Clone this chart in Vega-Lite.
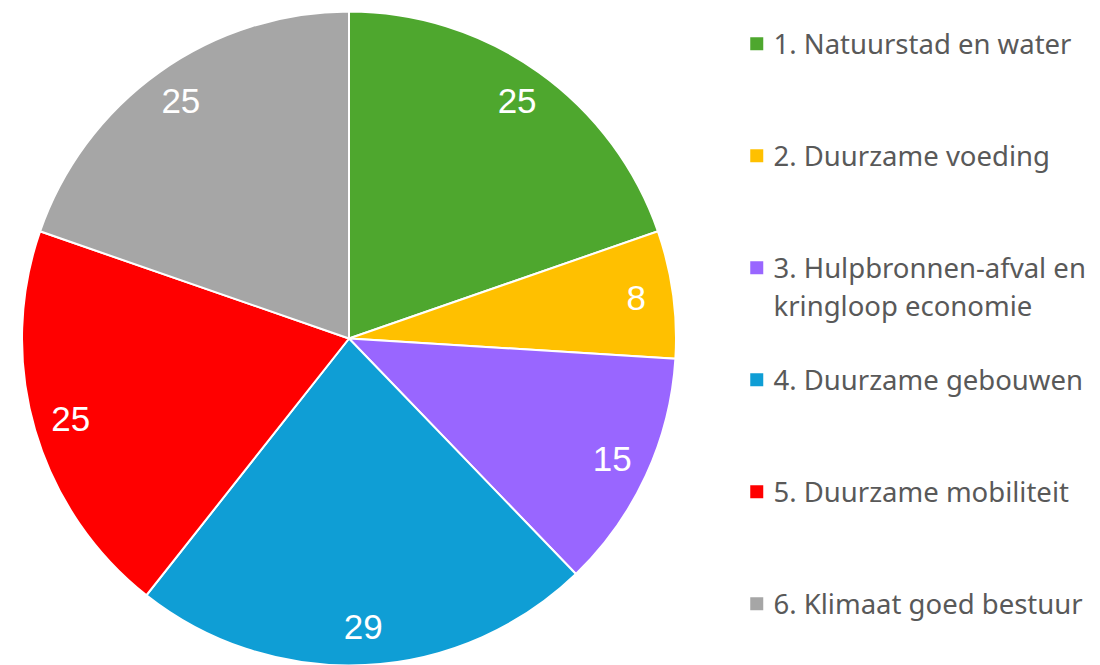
{
  "$schema": "https://vega.github.io/schema/vega-lite/v6.json",
  "width": 698,
  "height": 665,
  "padding": {"left": 0, "top": 6, "right": 402, "bottom": 0},
  "autosize": {"type": "none"},
  "background": "white",
  "data": {
    "values": [
      {"thema": "1. Natuurstad en water", "aantal": 25},
      {"thema": "2. Duurzame voeding", "aantal": 8},
      {"thema": "3. Hulpbronnen-afval en kringloop economie", "aantal": 15},
      {"thema": "4. Duurzame gebouwen", "aantal": 29},
      {"thema": "5. Duurzame mobiliteit", "aantal": 25},
      {"thema": "6. Klimaat goed bestuur", "aantal": 25}
    ]
  },
  "encoding": {
    "theta": {"field": "aantal", "type": "quantitative", "stack": true},
    "order": {"field": "thema", "type": "nominal", "sort": "ascending"},
    "color": {
      "field": "thema",
      "type": "nominal",
      "scale": {
        "domain": [
          "1. Natuurstad en water",
          "2. Duurzame voeding",
          "3. Hulpbronnen-afval en kringloop economie",
          "4. Duurzame gebouwen",
          "5. Duurzame mobiliteit",
          "6. Klimaat goed bestuur"
        ],
        "range": ["#4ea72e", "#ffc000", "#9966ff", "#0f9ed5", "#ff0000", "#a6a6a6"]
      },
      "legend": {
        "title": null,
        "orient": "none",
        "legendX": 743,
        "legendY": 24,
        "padding": 0,
        "symbolType": "square",
        "symbolSize": 169,
        "symbolStrokeWidth": 0,
        "labelFont": "Noto Sans",
        "labelFontSize": 27.5,
        "labelColor": "#595959",
        "labelOffset": 3,
        "labelLimit": 0,
        "labelBaseline": "top",
        "gridAlign": "all",
        "rowPadding": 44,
        "labelExpr": "datum.label == '3. Hulpbronnen-afval en kringloop economie' ? ['3. Hulpbronnen-afval en', 'kringloop economie'] : datum.label"
      }
    }
  },
  "layer": [
    {
      "mark": {"type": "arc", "outerRadius": 327, "stroke": "white", "strokeWidth": 2}
    },
    {
      "mark": {
        "type": "text",
        "radius": 290,
        "font": "Liberation Sans",
        "fontSize": 35,
        "fill": "white",
        "align": "center",
        "baseline": "middle"
      },
      "encoding": {
        "text": {"field": "aantal", "type": "quantitative"},
        "color": {"value": "white"}
      }
    }
  ],
  "config": {
    "view": {"stroke": null},
    "style": {"guide-label": {"lineHeight": 38, "dy": -12}}
  }
}
